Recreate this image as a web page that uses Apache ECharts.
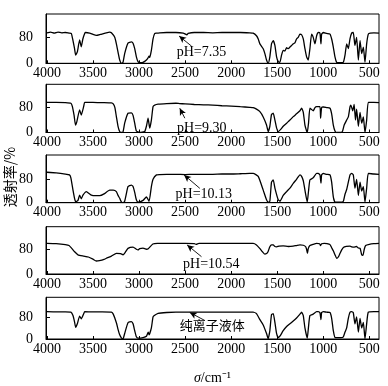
<!DOCTYPE html>
<html><head><meta charset="utf-8">
<script src="https://cdn.jsdelivr.net/npm/echarts@6/dist/echarts.min.js"></script>
<style>html,body{margin:0;padding:0;background:#fff}#c{width:388px;height:386px}</style>
</head><body><div id="c"></div>
<script>
const xTicks = [4000, 3500, 3000, 2500, 2000, 1500, 1000, 500];
const yTickLabels = [0, 80];
const panelLabels = ['pH=7.35', 'pH=9.30', 'pH=10.13', 'pH=10.54', '纯离子液体'];
const yAxisTitle = '透射率/%';

const spec735 = [[4000,94],[3960,96],[3920,93],[3880,96],[3840,94],[3800,95],[3760,93],[3735,92],[3717,70],[3700,45],[3688,25],[3670,35],[3645,72],[3627,51],[3610,75],[3590,92],[3580,95],[3536,93],[3500,89],[3464,86],[3420,89],[3355,94],[3319,96],[3300,94],[3264,80],[3246,60],[3225,30],[3210,10],[3192,0],[3174,3],[3156,30],[3120,62],[3083,66],[3065,62],[3047,45],[3029,20],[3011,5],[2993,2],[2956,3],[2938,6],[2920,10],[2902,17],[2891,22],[2884,18],[2866,40],[2848,75],[2830,92],[2811,93],[2775,94],[2700,95],[2600,95],[2520,93],[2480,88],[2467,92],[2400,95],[2300,95],[2200,94],[2100,95],[2000,95],[1900,95],[1800,94],[1761,93],[1725,85],[1706,75],[1688,60],[1652,45],[1634,30],[1616,10],[1598,0],[1580,20],[1562,60],[1543,70],[1525,55],[1507,20],[1489,5],[1471,3],[1453,25],[1435,40],[1416,38],[1398,48],[1380,45],[1362,50],[1344,55],[1326,60],[1308,63],[1290,75],[1272,80],[1253,90],[1235,88],[1217,75],[1199,45],[1181,20],[1163,10],[1145,45],[1127,90],[1109,80],[1090,60],[1072,85],[1054,95],[1036,93],[1025,60],[1018,90],[1000,95],[964,92],[927,90],[909,75],[891,50],[873,20],[855,3],[830,2],[800,2],[782,3],[764,25],[746,60],[728,45],[710,75],[692,93],[674,95],[656,55],[638,80],[619,10],[601,70],[583,30],[565,50],[547,3],[529,60],[511,90],[490,93],[450,94],[395,93]];

const spec930 = [[4000,97],[3900,97],[3800,96],[3740,94],[3725,85],[3705,55],[3690,24],[3675,35],[3645,73],[3627,56],[3600,85],[3590,97],[3500,97],[3400,96],[3300,95],[3280,92],[3262,80],[3246,51],[3228,20],[3210,3],[3192,0],[3174,2],[3156,30],[3120,62],[3083,63],[3065,55],[3047,30],[3029,5],[2993,0],[2956,2],[2938,3],[2920,20],[2902,46],[2884,14],[2866,40],[2848,83],[2830,88],[2793,91],[2700,93],[2600,94],[2560,93],[2500,92],[2400,90],[2300,89],[2200,88],[2100,86],[2000,85],[1900,83],[1800,81],[1761,80],[1725,75],[1688,67],[1652,50],[1616,24],[1598,3],[1580,20],[1562,58],[1543,62],[1525,40],[1507,15],[1489,3],[1462,10],[1435,20],[1398,30],[1380,35],[1362,40],[1326,51],[1290,60],[1253,70],[1235,78],[1217,65],[1199,24],[1181,5],[1174,0],[1160,30],[1145,78],[1109,70],[1090,80],[1072,83],[1036,83],[1029,46],[1018,80],[1000,82],[964,80],[927,78],[909,60],[891,24],[873,5],[855,0],[809,0],[790,5],[773,24],[746,40],[728,50],[710,82],[700,88],[680,70],[665,90],[650,40],[638,75],[619,20],[601,65],[583,30],[565,50],[547,0],[529,40],[511,97],[450,97],[395,96]];

const spec1013 = [[4000,104],[3900,102],[3800,98],[3755,95],[3740,85],[3717,43],[3700,15],[3688,3],[3663,8],[3645,26],[3627,13],[3609,26],[3572,38],[3536,30],[3518,26],[3480,24],[3427,24],[3380,30],[3319,43],[3280,43],[3246,38],[3228,25],[3210,15],[3192,3],[3174,0],[3156,5],[3138,30],[3120,55],[3083,60],[3065,55],[3047,35],[3029,10],[3011,2],[2956,8],[2920,20],[2891,5],[2866,55],[2848,80],[2811,95],[2775,96],[2700,97],[2600,97],[2500,96],[2400,97],[2300,97],[2200,97],[2100,98],[2000,98],[1900,99],[1800,100],[1761,100],[1706,90],[1652,43],[1616,10],[1598,2],[1580,5],[1562,70],[1543,78],[1525,50],[1489,10],[1470,5],[1435,25],[1398,38],[1362,50],[1326,66],[1290,80],[1253,95],[1235,90],[1217,75],[1199,43],[1174,2],[1160,40],[1145,78],[1109,85],[1072,100],[1054,100],[1036,95],[1025,67],[1018,95],[1000,100],[964,97],[927,95],[909,70],[891,20],[873,2],[855,2],[809,2],[782,5],[764,29],[746,45],[728,70],[710,95],[692,100],[674,95],[656,50],[638,80],[619,25],[601,70],[583,40],[565,55],[547,2],[529,50],[511,100],[450,98],[395,97]];

const spec1054 = [[4000,99],[3900,98],[3800,95],[3760,92],[3717,78],[3700,72],[3663,62],[3600,58],[3550,55],[3500,48],[3464,42],[3430,43],[3380,47],[3355,51],[3300,58],[3246,67],[3200,66],[3174,62],[3150,70],[3120,83],[3065,87],[3029,80],[3011,78],[2993,82],[2956,84],[2920,80],[2900,82],[2850,97],[2800,99],[2700,99],[2600,99],[2500,99],[2400,98],[2380,96],[2350,99],[2200,99],[2000,99],[1900,99],[1800,99],[1761,99],[1725,94],[1690,83],[1660,72],[1634,64],[1616,66],[1600,72],[1580,88],[1562,94],[1543,94],[1525,89],[1507,88],[1480,90],[1435,91],[1380,89],[1326,90],[1290,92],[1253,94],[1217,93],[1190,88],[1181,80],[1172,67],[1163,82],[1145,92],[1109,96],[1072,99],[1040,98],[1030,92],[1018,98],[990,99],[960,98],[927,95],[909,85],[891,75],[873,62],[855,51],[837,55],[818,67],[800,78],[782,86],[750,89],[710,90],[690,88],[670,87],[640,89],[620,84],[600,83],[583,62],[570,60],[555,80],[540,92],[500,96],[450,98],[395,99]];

const specPure = [[4000,99],[3900,98],[3800,98],[3740,97],[3717,85],[3700,62],[3688,42],[3670,55],[3645,83],[3627,73],[3600,92],[3590,99],[3500,98],[3400,98],[3300,97],[3280,90],[3246,59],[3228,35],[3210,15],[3192,4],[3174,0],[3156,20],[3120,59],[3083,63],[3065,55],[3047,30],[3029,8],[3011,3],[2956,5],[2920,10],[2900,25],[2891,15],[2866,40],[2848,80],[2830,86],[2793,93],[2700,96],[2600,97],[2500,97],[2400,97],[2300,97],[2200,97],[2100,97],[2000,97],[1900,97],[1800,97],[1761,97],[1725,92],[1688,70],[1652,51],[1616,20],[1598,1],[1580,30],[1562,88],[1543,92],[1525,60],[1507,20],[1489,5],[1471,10],[1435,30],[1398,45],[1362,55],[1326,65],[1290,76],[1253,90],[1235,97],[1217,85],[1199,40],[1174,3],[1160,45],[1145,85],[1109,90],[1072,99],[1054,99],[1036,95],[1025,70],[1018,96],[1000,99],[964,97],[927,96],[909,75],[891,30],[873,5],[855,5],[809,5],[782,8],[764,25],[746,40],[728,75],[710,97],[692,99],[674,95],[656,55],[638,80],[619,25],[601,75],[583,40],[565,60],[547,1],[529,55],[511,97],[450,99],[395,99]];

const spectra = [spec735, spec930, spec1013, spec1054, specPure];

// layout (pixels) and annotation anchors (data coords)
const tops = [14, 84.3, 155, 226.7, 297.3];
const heights = [49.3, 48.2, 47.7, 47.3, 48.4];
const yMax = [152, 155, 163, 153, 151];
const textAt = [[2322,33],[2319,14.5],[2297,28],[2215,32],[2204,49]];
const arrowTail = [[2430,53],[2503,46],[2340,49],[2322,56],[2286,67]];
const arrowTip = [[2565,84],[2558,78],[2511,95],[2478,94],[2449,96]];

const serif = 'Liberation Serif';
const plain = v => String(v);
const grids = [], xAxes = [], yAxes = [], series = [];
for (let i = 0; i < 5; i++) {
  grids.push({left: 46, width: 333, top: tops[i], height: heights[i], show: true,
    borderColor: '#000', borderWidth: 1, backgroundColor: 'transparent'});
  const xa = {type: 'value', gridIndex: i, min: 395, max: 4010, inverse: true,
    axisLine: {show: true, onZero: false, lineStyle: {color: '#000', width: 1}},
    axisTick: {show: true, inside: true, length: 3, customValues: xTicks, lineStyle: {color: '#000'}},
    axisLabel: {show: true, customValues: xTicks, formatter: plain, color: '#000', fontFamily: serif, fontSize: 14, margin: 3},
    splitLine: {show: false}};
  if (i === 4) {
    xa.name = '{i|σ}/cm⁻¹';
    xa.nameLocation = 'middle';
    xa.nameGap = 32;
    xa.nameTextStyle = {color: '#000', fontFamily: serif, fontSize: 14,
      rich: {i: {fontStyle: 'italic', fontFamily: serif, fontSize: 14, color: '#000'}}};
  }
  xAxes.push(xa);
  yAxes.push({type: 'value', gridIndex: i, min: 0, max: yMax[i],
    axisLine: {show: true, lineStyle: {color: '#000'}},
    axisTick: {show: true, inside: true, length: 4, customValues: [80], lineStyle: {color: '#000'}},
    axisLabel: {show: true, customValues: yTickLabels, formatter: plain, color: '#000', fontFamily: serif, fontSize: 14, margin: 13},
    splitLine: {show: false}});
  series.push({type: 'line', xAxisIndex: i, yAxisIndex: i, data: spectra[i],
    showSymbol: false, symbol: 'none', smooth: 0.15, animation: false,
    lineStyle: {color: '#000', width: 1.3},
    markLine: {silent: true, animation: false, symbol: ['none', 'arrow'], symbolSize: [5, 7],
      lineStyle: {color: '#000', width: 0.9, type: 'solid'}, label: {show: false},
      data: [[{coord: arrowTail[i]}, {coord: arrowTip[i]}]]},
    markPoint: {silent: true, animation: false,
      data: [{coord: textAt[i], symbol: 'circle', symbolSize: 1, itemStyle: {color: 'rgba(0,0,0,0)'},
        label: {show: true, position: 'inside', formatter: panelLabels[i], color: '#000',
          fontFamily: i === 4 ? 'Noto Sans CJK SC' : serif, fontSize: i === 4 ? 13 : 14}}]}
  });
}

const chart = echarts.init(document.getElementById('c'), null, {renderer: 'canvas'});
chart.setOption({
  animation: false,
  backgroundColor: '#fff',
  grid: grids, xAxis: xAxes, yAxis: yAxes, series: series,
  graphic: [{type: 'text', x: 10, y: 177, rotation: Math.PI / 2,
    style: {text: yAxisTitle, font: '14px "Noto Sans CJK SC"', fill: '#000', align: 'center', verticalAlign: 'middle'}}]
});
</script></body></html>
